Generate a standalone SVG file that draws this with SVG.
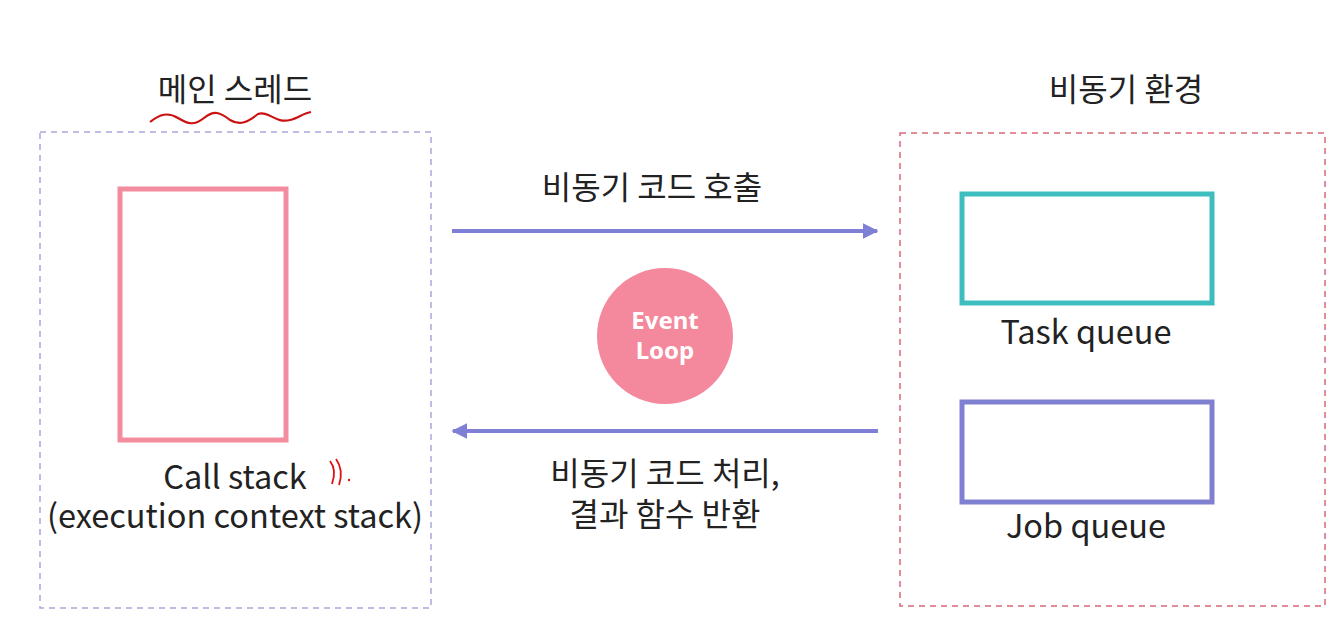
<svg xmlns="http://www.w3.org/2000/svg" width="1341" height="625" viewBox="0 0 1341 625">
<defs>
<style>
.t{font-family:"Noto Sans CJK KR","Noto Sans",sans-serif;fill:#222;text-anchor:middle;font-size:32.5px}
.k{font-family:"Noto Sans CJK KR","Noto Sans",sans-serif;fill:#222;text-anchor:middle;font-size:32px}
.w{font-family:"Noto Sans","Noto Sans CJK KR",sans-serif;fill:#fff;text-anchor:middle;font-size:24px;font-weight:bold}
.conn{stroke:#7f7fd5;stroke-width:4;fill:none}
</style>
<marker id="ah" viewBox="0 0 10 10" refX="9" refY="5" markerWidth="4" markerHeight="4" orient="auto-start-reverse" markerUnits="strokeWidth">
<path d="M0,0 L10,5 L0,10 Z" fill="#7f7fd5"/>
</marker>
</defs>
<rect width="1341" height="625" fill="#fff"/>
<g id="main-thread">
<rect x="40" y="132" width="391" height="476" fill="none" stroke="#a9a9dc" stroke-width="1.5" stroke-dasharray="6,5"/>
<text class="k" x="235" y="101">메인 스레드</text>
<path d="M150,122 C160,114 168,112 178,118 C188,124 194,126 204,118 C214,110 220,112 230,120 C240,126 248,122 258,114 C268,110 276,124 290,120 C298,118 304,113 311,112" fill="none" stroke="#cc1111" stroke-width="2.2"/>
</g>
<g id="call-stack">
<rect x="120" y="189" width="166" height="251" fill="none" stroke="#f48ca0" stroke-width="5"/>
<text class="t" x="235" y="489">Call stack</text>
<text class="t" x="235" y="528">(execution context stack)</text>
<path d="M330,461 Q337,470 332,484 M336,459 Q344,470 339,485" fill="none" stroke="#dd1111" stroke-width="1.8"/>
<circle cx="349" cy="480" r="1.2" fill="#dd1111"/>
</g>
<g id="async-env">
<rect x="900" y="133" width="425" height="473" fill="none" stroke="#d86a78" stroke-width="1.5" stroke-dasharray="6,5"/>
<text class="k" x="1126" y="101">비동기 환경</text>
</g>
<g id="task-queue">
<rect x="962" y="194" width="250" height="109" fill="none" stroke="#3dbdbd" stroke-width="5"/>
<text class="t" x="1086" y="344">Task queue</text>
</g>
<g id="job-queue">
<rect x="962" y="402" width="250" height="100" fill="none" stroke="#8080d2" stroke-width="5"/>
<text class="t" x="1086" y="538">Job queue</text>
</g>
<g id="event-loop">
<circle cx="665" cy="336" r="68" fill="#f4889c"/>
<text class="w" x="665" y="329">Event</text>
<text class="w" x="665" y="359">Loop</text>
</g>
<g id="connectors">
<line class="conn" x1="452" y1="231" x2="877" y2="231" marker-end="url(#ah)"/>
<line class="conn" x1="878" y1="431" x2="453" y2="431" marker-end="url(#ah)"/>
<text class="k" x="652" y="199">비동기 코드 호출</text>
<text class="k" x="665" y="485">비동기 코드 처리,</text>
<text class="k" x="665" y="526">결과 함수 반환</text>
</g>
</svg>
